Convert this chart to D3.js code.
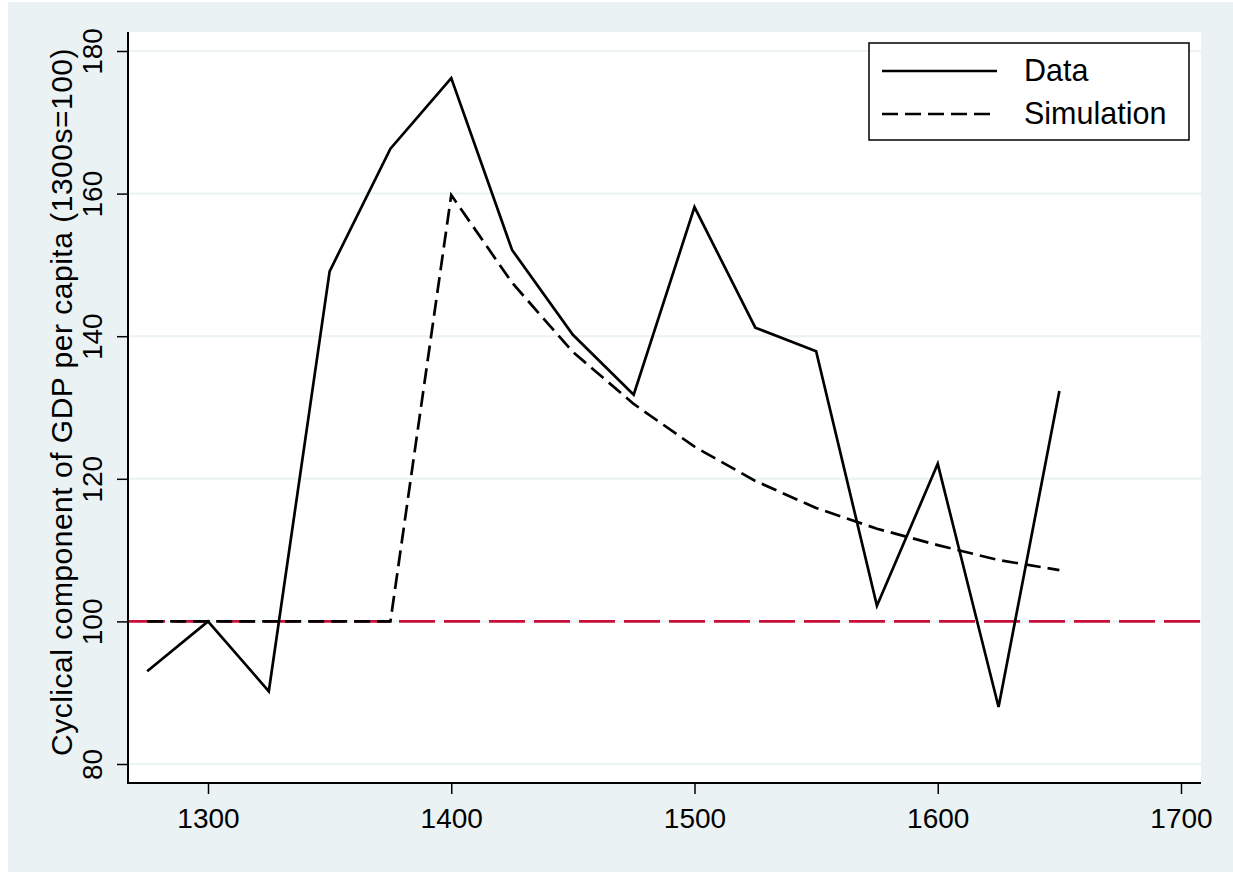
<!DOCTYPE html>
<html lang="en">
<head>
<meta charset="UTF-8"/>
<title>Cyclical component of GDP per capita</title>
<script src="https://d3js.org/d3.v7.min.js"></script>
<style>
  body { margin: 0; background: #fff; }
  svg { display: block; }
  text { font-family: 'Liberation Sans', Arial, sans-serif; fill: #000; }
  .tick text { font-size: 28px; }
  .tick line { stroke: #000; stroke-width: 1.5; }
  .grid line { stroke: #EAF2F3; stroke-width: 2; }
  .label { font-size: 30px; letter-spacing: 0.5px; }
  .legend text { font-size: 30.5px; }
</style>
</head>
<body>
<svg width="1233" height="872"></svg>
<script>
// values, 25-year steps
const years = [1275, 1300, 1325, 1350, 1375, 1400, 1425, 1450, 1475, 1500, 1525, 1550, 1575, 1600, 1625, 1650];
const dataSeries = [93.0, 100.0, 90.2, 149.1, 166.3, 176.2, 152.1, 140.2, 131.8, 158.1, 141.2, 137.9, 102.2, 122.1, 88.0, 132.3];
const simSeries = [100, 100, 100, 100, 100, 159.8, 147.5, 137.8, 130.5, 124.5, 119.7, 115.9, 113.0, 110.7, 108.6, 107.2];
const xTicks = [1300, 1400, 1500, 1600, 1700];
const yTicks = [80, 100, 120, 140, 160, 180];
const baseline = 100;

const svg = d3.select('svg');

// plot region
const pLeft = 128, pRight = 1201, pTop = 32, pBottom = 783;

const x = d3.scaleLinear().domain([1300, 1700]).range([208, 1181]);
const y = d3.scaleLinear().domain([80, 180]).range([764, 51]);

// outer background
svg.append('rect')
  .attr('x', 8).attr('y', 2)
  .attr('width', 1225).attr('height', 870)
  .attr('fill', '#EAF2F3');

svg.append('rect')
  .attr('x', pLeft).attr('y', pTop)
  .attr('width', pRight - pLeft).attr('height', pBottom - pTop)
  .attr('fill', '#fff');

// horizontal grid
svg.append('g')
  .attr('class', 'grid')
  .selectAll('line')
  .data(yTicks)
  .enter()
  .append('line')
  .attr('x1', pLeft + 1).attr('x2', pRight)
  .attr('y1', d => y(d)).attr('y2', d => y(d));

// reference line at 100
svg.append('line')
  .attr('x1', pLeft + 1).attr('x2', pRight)
  .attr('y1', y(baseline)).attr('y2', y(baseline))
  .attr('stroke', '#C8103A')
  .attr('stroke-width', 2.6)
  .attr('stroke-dasharray', '36 9');

const line = d3.line()
  .x((d, i) => x(years[i]))
  .y(d => y(d));

svg.append('path')
  .datum(simSeries)
  .attr('d', line)
  .attr('fill', 'none')
  .attr('stroke', '#000')
  .attr('stroke-width', 2.7)
  .attr('stroke-dasharray', '16 7');

svg.append('path')
  .datum(dataSeries)
  .attr('d', line)
  .attr('fill', 'none')
  .attr('stroke', '#000')
  .attr('stroke-width', 2.7)
  .attr('stroke-linejoin', 'miter');

// axes
const yAxis = svg.append('g')
  .attr('transform', `translate(${pLeft}, 0)`)
  .call(d3.axisLeft(y).tickValues(yTicks).tickSize(11).tickPadding(0).tickFormat(d3.format('d')));
yAxis.select('.domain').remove();
yAxis.selectAll('.tick text')
  .attr('x', 0).attr('dy', null)
  .attr('text-anchor', 'middle')
  .attr('transform', 'translate(-26, 0) rotate(-90)');

const xAxis = svg.append('g')
  .attr('transform', `translate(0, ${pBottom})`)
  .call(d3.axisBottom(x).tickValues(xTicks).tickSize(11).tickPadding(14).tickFormat(d3.format('d')));
xAxis.select('.domain').remove();

svg.append('line')
  .attr('x1', pLeft).attr('x2', pLeft)
  .attr('y1', pTop).attr('y2', pBottom + 1)
  .attr('stroke', '#000').attr('stroke-width', 2);

svg.append('line')
  .attr('x1', pLeft).attr('x2', pRight)
  .attr('y1', pBottom).attr('y2', pBottom)
  .attr('stroke', '#000').attr('stroke-width', 2);

// y axis title
svg.append('text')
  .attr('class', 'label')
  .attr('transform', 'translate(72, 402) rotate(-90)')
  .attr('text-anchor', 'middle')
  .text('Cyclical component of GDP per capita (1300s=100)');

// legend
const legend = svg.append('g').attr('class', 'legend');
legend.append('rect')
  .attr('x', 869).attr('y', 43)
  .attr('width', 320).attr('height', 97)
  .attr('fill', '#fff')
  .attr('stroke', '#000')
  .attr('stroke-width', 1.5);

const legendItems = [
  { name: 'Data', dash: null, y: 71 },
  { name: 'Simulation', dash: '16 7', y: 114 }
];

legendItems.forEach(it => {
  legend.append('line')
    .attr('x1', 882).attr('x2', 997)
    .attr('y1', it.y).attr('y2', it.y)
    .attr('stroke', '#000')
    .attr('stroke-width', 2.7)
    .attr('stroke-dasharray', it.dash);
  legend.append('text')
    .attr('x', 1024).attr('y', it.y + 10)
    .text(it.name);
});
</script>
</body>
</html>
